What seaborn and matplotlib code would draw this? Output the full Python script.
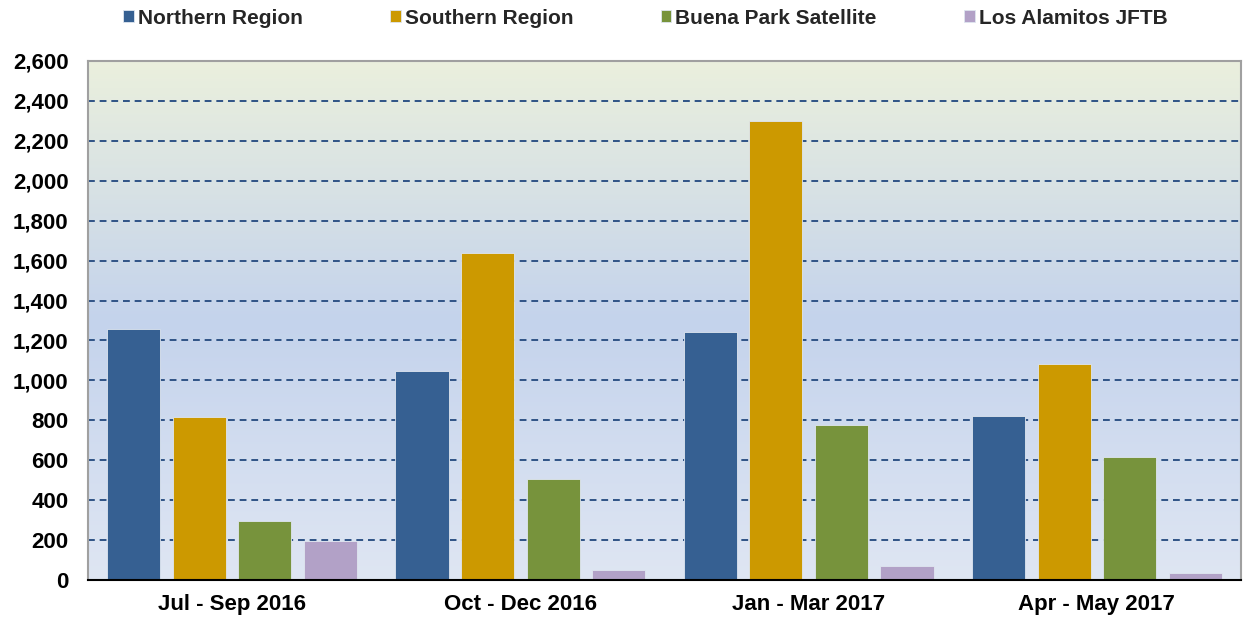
import matplotlib
matplotlib.use("Agg")
import matplotlib.pyplot as plt
import matplotlib.ticker as mticker
from matplotlib.colors import LinearSegmentedColormap
import numpy as np
import pandas as pd
import seaborn as sns

sns.set_style("white")
plt.rcParams['font.family'] = ['Liberation Sans', 'DejaVu Sans']
plt.rcParams['font.weight'] = 'bold'

periods = ["Jul - Sep 2016", "Oct - Dec 2016", "Jan - Mar 2017", "Apr - May 2017"]
regions = ["Northern Region", "Southern Region", "Buena Park Satellite", "Los Alamitos JFTB"]
northern = [1258, 1045, 1242, 820]
southern = [817, 1637, 2297, 1080]
buena_park = [297, 505, 776, 615]
los_alamitos = [196, 52, 70, 37]
colors = ["#366092", "#cc9900", "#77933c", "#b2a1c7"]

df = pd.DataFrame({
    "period": periods * 4,
    "region": [r for r in regions for _ in periods],
    "value": northern + southern + buena_park + los_alamitos,
})

fig = plt.figure(figsize=(12.43, 6.22), dpi=100)
ax = fig.add_axes([0.0708, 0.0675, 0.9276, 0.8345])

# gradient background of the plot area
cmap = LinearSegmentedColormap.from_list(
    "bg", [(0.0, "#dfe6f3"), (0.5, "#c4d3ec"), (1.0, "#ebf0dd")])
grad = np.linspace(0, 1, 256).reshape(-1, 1)
ax.imshow(grad, extent=[-0.5, 3.5, 0, 2600], origin="lower", aspect="auto",
          cmap=cmap, zorder=0)

sns.barplot(data=df, x="period", y="value", hue="region", palette=colors,
            width=0.91, gap=0.19, ax=ax, zorder=2, linewidth=0.6,
            edgecolor="#dfe6f0", saturation=1)

ax.set_xlim(-0.5, 3.5)
ax.set_ylim(0, 2600)
ax.set_yticks(np.arange(0, 2601, 200))
ax.yaxis.set_major_formatter(mticker.FuncFormatter(lambda v, p: f"{v:,.0f}"))
ax.grid(axis="y", color="#2f5386", linestyle=(0, (3.5, 2.5)), linewidth=1.4, zorder=1)
ax.grid(axis="x", visible=False)
ax.set_xlabel("")
ax.set_ylabel("")
ax.tick_params(axis="y", length=0, labelsize=16, pad=14, labelcolor="black")
ax.tick_params(axis="x", which="major", length=0, labelsize=16, pad=10, labelcolor="black")
ax.set_xticks([0.5, 1.5, 2.5], minor=True)
ax.tick_params(axis="x", which="minor", length=6, width=1.2, color="black", direction="out")
for lab in ax.get_xticklabels() + ax.get_yticklabels():
    lab.set_fontweight("bold")

for s in ["top", "left", "right"]:
    ax.spines[s].set_color("#a0a0a0")
    ax.spines[s].set_linewidth(1.5)
ax.spines["bottom"].set_color("black")
ax.spines["bottom"].set_linewidth(1.5)

handles, labels = ax.get_legend_handles_labels()
ax.get_legend().remove()
fig.legend(handles, labels, loc="center", bbox_to_anchor=(0.5192, 0.971), ncol=4,
           frameon=False, handlelength=0.5, handleheight=0.5,
           handletextpad=0.2, columnspacing=4.2, prop={"weight": "bold", "size": 15})

fig.savefig("out.png", dpi=100)
